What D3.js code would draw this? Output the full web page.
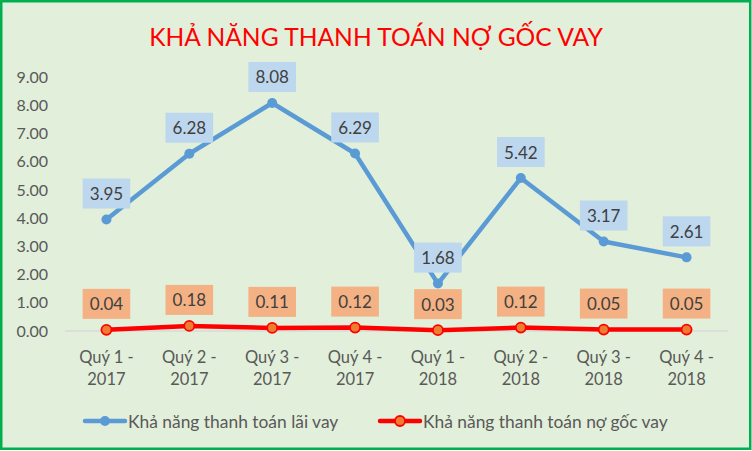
<!DOCTYPE html>
<html><head><meta charset="utf-8">
<script src="https://cdn.jsdelivr.net/npm/d3@7"></script>
<style>body{margin:0;background:#fff}svg{display:block}</style>
</head><body>
<svg id="c" width="752" height="451"></svg>
<script>
const categories = ["Quý 1 - 2017","Quý 2 - 2017","Quý 3 - 2017","Quý 4 - 2017","Quý 1 - 2018","Quý 2 - 2018","Quý 3 - 2018","Quý 4 - 2018"];
const laiVay = [3.95, 6.28, 8.08, 6.29, 1.68, 5.42, 3.17, 2.61];
const nqGocVay = [0.04, 0.18, 0.11, 0.12, 0.03, 0.12, 0.05, 0.05];
const seriesNames = ["Khả năng thanh toán lãi vay", "Khả năng thanh toán nợ gốc vay"];
const yTicks = [0,1,2,3,4,5,6,7,8,9];
const title = "KHẢ NĂNG THANH TOÁN NỢ GỐC VAY";

const FONT = "Lato, 'Open Sans', sans-serif";
const svg = d3.select("#c");
svg.append("rect").attr("x",1.25).attr("y",1.25).attr("width",749).attr("height",447.5)
  .attr("fill","#e2efda").attr("stroke","#00b050").attr("stroke-width",2.5);

svg.append("text").attr("x",376).attr("y",46).attr("text-anchor","middle")
  .attr("font-family",FONT).attr("font-size",24.6).attr("fill","#ff0000").text(title);

const x = d3.scaleBand().domain(categories).range([65,728]);
const y = d3.scaleLinear().domain([0,9]).range([331,77]);
const cx = d => x(d) + x.bandwidth()/2;

// y axis labels
const yAxis = d3.axisLeft(y).tickValues(yTicks).tickFormat(d3.format(".2f")).tickSize(0).tickPadding(0);
const ya = svg.append("g").attr("transform","translate(48,0)").call(yAxis);
ya.select(".domain").remove();
ya.selectAll("text").attr("font-family",FONT).attr("font-size",16).attr("fill","#595959");

// x axis line
svg.append("line").attr("x1",65).attr("x2",728).attr("y1",y(0)).attr("y2",y(0))
  .attr("stroke","#d9d9d9").attr("stroke-width",1.5);

// x labels
const xl = svg.append("g");
categories.forEach(c => {
  const parts = c.split(" - ");
  const t = xl.append("text").attr("x",cx(c)).attr("text-anchor","middle")
    .attr("font-family",FONT).attr("font-size",16.5).attr("fill","#595959");
  t.append("tspan").attr("x",cx(c)).attr("y",363).text(parts[0] + " -");
  t.append("tspan").attr("x",cx(c)).attr("y",385).text(parts[1]);
});

const line = d3.line().x((d,i)=>cx(categories[i])).y(d=>y(d));

function drawSeries(vals, color, markerFill, markerStroke, labelFill) {
  svg.append("path").datum(vals).attr("d",line).attr("fill","none")
    .attr("stroke",color).attr("stroke-width",4.5).attr("stroke-linejoin","round").attr("stroke-linecap","round");
  svg.selectAll(null).data(vals).enter().append("circle")
    .attr("cx",(d,i)=>cx(categories[i])).attr("cy",d=>y(d)).attr("r",5)
    .attr("fill",markerFill).attr("stroke",markerStroke).attr("stroke-width",markerStroke===markerFill?0:1.8);
  vals.forEach((v,i)=>{
    const g = svg.append("g");
    const t = g.append("text").attr("x",cx(categories[i])).attr("y",y(v)-11-15)
      .attr("text-anchor","middle").attr("dominant-baseline","central")
      .attr("font-family",FONT).attr("font-size",17).attr("fill","#404040").text(v.toFixed(2));
    const w = t.node().getComputedTextLength() + 14;
    g.insert("rect","text").attr("x",cx(categories[i])-w/2).attr("y",y(v)-11-30)
      .attr("width",w).attr("height",30).attr("fill",labelFill);
  });
}
drawSeries(laiVay, "#5b9bd5", "#5b9bd5", "#5b9bd5", "#bdd7ee");
drawSeries(nqGocVay, "#ff0000", "#ed7d31", "#ff0000", "#f4b183");

// legend
const leg = [
  {name: seriesNames[0], x0:85, color:"#5b9bd5", fill:"#5b9bd5", stroke:"#5b9bd5"},
  {name: seriesNames[1], x0:380, color:"#ff0000", fill:"#ed7d31", stroke:"#ff0000"}
];
leg.forEach(l=>{
  svg.append("line").attr("x1",l.x0).attr("x2",l.x0+40).attr("y1",421).attr("y2",421)
    .attr("stroke",l.color).attr("stroke-width",4.5).attr("stroke-linecap","round");
  svg.append("circle").attr("cx",l.x0+20).attr("cy",421).attr("r",5).attr("fill",l.fill)
    .attr("stroke",l.stroke).attr("stroke-width",l.fill===l.stroke?0:1.8);
  svg.append("text").attr("x",l.x0+43).attr("y",421).attr("dominant-baseline","central")
    .attr("font-family",FONT).attr("font-size",17.4).attr("fill","#595959").text(l.name);
});
</script>
</body></html>
